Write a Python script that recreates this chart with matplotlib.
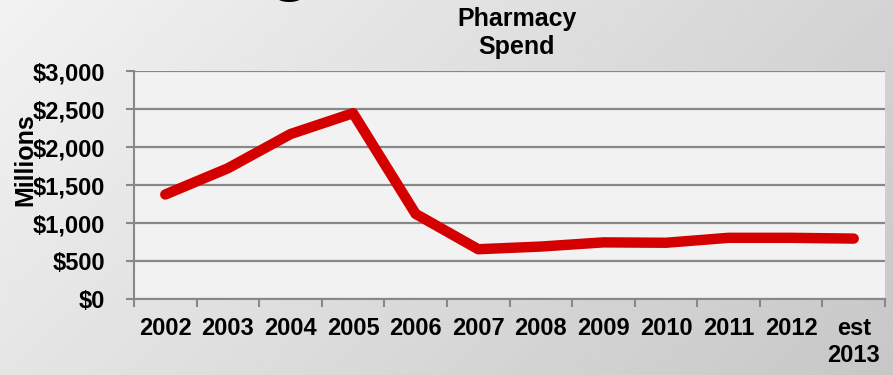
import numpy as np
import matplotlib
matplotlib.use("Agg")
import matplotlib.pyplot as plt
from matplotlib.ticker import FuncFormatter, FixedLocator

plt.rcParams['font.family'] = ['Liberation Sans', 'DejaVu Sans']
plt.rcParams['font.weight'] = 'bold'

years = ["2002", "2003", "2004", "2005", "2006", "2007", "2008", "2009",
         "2010", "2011", "2012", "est\n2013"]
spend = [1375, 1720, 2170, 2445, 1120, 655, 690, 745, 740, 805, 805, 795]
y_ticks = [0, 500, 1000, 1500, 2000, 2500, 3000]

fig = plt.figure(figsize=(8.93, 3.75), dpi=100)

# gradient background for the whole slide
bg = fig.add_axes([0, 0, 1, 1], zorder=-10)
gx, gy = np.meshgrid(np.linspace(0, 1, 300), np.linspace(0, 1, 150))
shade = 0.95 - 0.17 * (0.7 * gx + 0.3 * gy)
bg.imshow(shade, cmap='gray', vmin=0, vmax=1, aspect='auto', extent=[0, 1, 0, 1])
bg.axis('off')

ax = fig.add_axes([134 / 893, 1 - 299 / 375, (885 - 134) / 893, (299 - 71) / 375])
ax.set_facecolor('#f2f2f2')

x = np.arange(len(years))
ax.plot(x, spend, color='#d40000', linewidth=7.5, solid_capstyle='round',
        solid_joinstyle='round', zorder=3)

ax.set_xlim(-0.5, len(years) - 0.5)
ax.set_ylim(0, 3000)
ax.set_yticks(y_ticks)
ax.yaxis.set_major_formatter(FuncFormatter(lambda v, p: "${:,.0f}".format(v)))
ax.grid(axis='y', color='#888888', linewidth=1.6)
ax.set_axisbelow(True)

ax.xaxis.set_major_locator(FixedLocator(np.arange(-0.5, len(years), 1.0)))
ax.xaxis.set_major_formatter(FuncFormatter(lambda v, p: ""))
ax.xaxis.set_minor_locator(FixedLocator(x))
ax.set_xticklabels(years, minor=True)
ax.tick_params(axis='x', which='major', length=6, width=1.5, color='#888888', direction='out')
ax.tick_params(axis='x', which='minor', length=0, pad=13, labelsize=17)
ax.tick_params(axis='y', length=6, width=1.5, color='#888888', pad=15, labelsize=17)

for side in ['top', 'right']:
    ax.spines[side].set_visible(False)
for side in ['left', 'bottom']:
    ax.spines[side].set_color('#888888')
    ax.spines[side].set_linewidth(1.5)

fig.text(25 / 893, 1 - 160 / 375, "Millions", rotation=90, fontsize=18,
         fontweight='bold', ha='center', va='center')
fig.text(517 / 893, 1 - 33 / 375, "Pharmacy\nSpend", fontsize=18, fontweight='bold',
         ha='center', va='center', linespacing=1.25)
# descender of a slide title cut off at the top edge
fig.text(290 / 893, 1.034, "g", fontsize=52, fontweight='bold', ha='center',
         va='baseline')

fig.savefig("out.png", dpi=100)
